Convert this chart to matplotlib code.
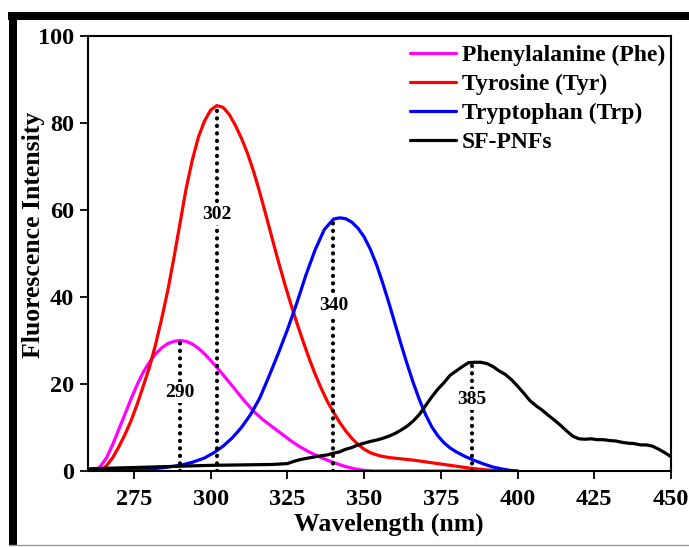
import matplotlib
matplotlib.use("Agg")
import matplotlib.pyplot as plt
from matplotlib.patches import Rectangle
from matplotlib.lines import Line2D

# ---- data ----
phe_x = [262, 264, 266, 268, 270, 272, 274, 276, 278, 280, 282, 284, 286, 288, 290, 292, 294, 296, 298, 300,
         302, 305, 308, 311, 314, 317, 320, 323, 326, 329, 332, 335, 338, 341, 344, 347, 350, 353, 400]
phe_y = [0, 1, 3, 6, 9.5, 13, 16.5, 19.8, 22.7, 25, 26.9, 28.3, 29.3, 29.8, 30, 29.8, 29.2, 28.2, 26.9, 25.4,
         23.8, 21.3, 18.7, 16.1, 13.7, 11.8, 10.2, 8.6, 7.0, 5.6, 4.4, 3.4, 2.5, 1.7, 1.0, 0.5, 0.15, 0, 0]

tyr_x = [264, 266, 268, 270, 272, 274, 276, 278, 280, 282, 284, 286, 288, 290, 292, 294, 296, 298, 300, 302,
         304, 306, 308, 310, 312, 314, 316, 318, 320, 322, 324, 326, 328, 330, 332, 334, 336, 338, 340, 342,
         344, 346, 348, 350, 352, 355, 358, 362, 366, 370, 375, 380, 385, 390, 395]
tyr_y = [0, 1.2, 3, 5.5, 8.3, 11.5, 15.3, 19.5, 23.8, 29, 35, 41.5, 49, 57, 65, 71.5, 76.8, 80.5, 83, 84,
         83.6, 82, 79.5, 76.5, 73, 68.8, 64, 58.8, 53.5, 48.3, 43.3, 38.6, 34.2, 30, 26, 22.3, 19, 16, 13.5, 11.2,
         9.2, 7.5, 6.1, 5.0, 4.2, 3.5, 3.1, 2.8, 2.5, 2.1, 1.6, 1.1, 0.6, 0.25, 0]

trp_x = [262, 270, 280, 285, 290, 294, 298, 301, 304, 307, 310, 313, 316, 319, 322, 325, 328, 331, 334, 337,
         340, 342, 344, 346, 348, 350, 352, 354, 356, 358, 360, 362, 364, 366, 368, 370, 372, 374, 376, 378,
         380, 383, 386, 389, 392, 395, 398, 400]
trp_y = [0, 0.1, 0.4, 0.8, 1.3, 2.0, 3.0, 4.2, 5.7, 7.6, 10, 13, 16.8, 21.8, 27, 32.5, 38.5, 45, 50.8, 55.5,
         57.9, 58.2, 58, 57.2, 55.8, 53.8, 51, 47.5, 43.3, 38.8, 34, 29.2, 24.6, 20.3, 16.4, 13, 10.2, 8.1, 6.5, 5.3,
         4.4, 3.3, 2.4, 1.6, 0.9, 0.45, 0.1, 0]

sf_x = [260, 270, 280, 290, 300, 310, 320, 325, 327, 329, 332, 335, 338, 340, 342, 344, 346, 348, 350, 352,
        354, 356, 358, 360, 362, 364, 366, 368, 370, 372, 374, 376, 378, 380, 382, 384, 386, 388, 390, 392,
        394, 396, 398, 400, 402, 404, 406, 408, 410, 412, 414, 416, 418, 420, 422, 424, 426, 428, 430, 432,
        434, 436, 438, 440, 442, 444, 446, 448, 450]
sf_y = [0.5, 0.7, 0.9, 1.1, 1.3, 1.4, 1.5, 1.7, 2.2, 2.6, 3.0, 3.4, 3.7, 4.1, 4.4, 5.0, 5.4, 6.0, 6.4, 6.8,
        7.1, 7.5, 8.0, 8.6, 9.4, 10.3, 11.5, 13.0, 15.0, 17.0, 18.8, 20.3, 22.0, 23.0, 24.0, 24.9, 25.0, 25.0, 24.7, 24.0,
        23.0, 22.2, 21.0, 19.5, 17.9, 16.2, 15.0, 14.0, 12.8, 11.7, 10.5, 9.2, 8.0, 7.4, 7.3, 7.4, 7.2, 7.2, 7.0, 6.9,
        6.6, 6.4, 6.3, 6.0, 6.0, 5.7, 5.0, 4.2, 3.3]

peak_nm = [290, 302, 340, 385]
peak_val = [30, 84, 58, 25]
peak_label_y = [18, 59, 38, 16.5]

series_labels = ["Phenylalanine (Phe)", "Tyrosine (Tyr)", "Tryptophan (Trp)", "SF-PNFs"]
series_colors = ["#ff00ff", "#ff0000", "#0000ff", "#000000"]

x_ticks = [275, 300, 325, 350, 375, 400, 425, 450]
y_ticks = [0, 20, 40, 60, 80, 100]

# ---- plot ----
plt.rcParams['font.family'] = ['Liberation Serif', 'DejaVu Serif']
plt.rcParams['font.weight'] = 'bold'

fig = plt.figure(figsize=(6.89, 5.47), dpi=100)
W, H = 689, 547
ax = fig.add_axes([88 / W, (H - 471) / H, (671 - 88) / W, (471 - 36) / H])

xs = [phe_x, tyr_x, trp_x, sf_x]
ys = [phe_y, tyr_y, trp_y, sf_y]
for x, y, lab, c in zip(xs, ys, series_labels, series_colors):
    ax.plot(x, y, color=c, lw=2.3, label=lab, solid_joinstyle='round', solid_capstyle='round')

for nm, v, ly in zip(peak_nm, peak_val, peak_label_y):
    ax.plot([nm, nm], [0, v], color='black', lw=3.0, linestyle=(0, (0.05, 1.75)),
            dash_capstyle='round', zorder=3)
    ax.text(nm, ly, str(nm), ha='center', va='center', fontsize=14, fontweight='bold',
            zorder=4, bbox=dict(facecolor='white', edgecolor='none', pad=1.5))

ax.set_xlim(260, 450)
ax.set_ylim(0, 100)
ax.set_xticks(x_ticks)
ax.set_yticks(y_ticks)
ax.tick_params(axis='both', direction='out', length=6, width=1.3, labelsize=17.5, pad=4)
ax.tick_params(axis='x', pad=7)
for lbl in ax.get_xticklabels() + ax.get_yticklabels():
    lbl.set_fontweight('bold')
for s in ax.spines.values():
    s.set_linewidth(1.5)

ax.set_xlabel("Wavelength (nm)", fontsize=18.5, fontweight='bold')
ax.set_ylabel("Fluorescence Intensity", fontsize=18.5, fontweight='bold')
ax.xaxis.set_label_coords((389 - 88) / 583, (471 - 513) / 435)
ax.yaxis.set_label_coords((22 - 88) / 583, (471 - 235) / 435)
ax.yaxis.label.set_va('top')

leg = ax.legend(loc='upper right', bbox_to_anchor=(1.0, 0.993), frameon=False,
                prop={'size': 17, 'weight': 'bold'}, handlelength=1.95,
                handletextpad=0.25, labelspacing=0.31, borderaxespad=0.15, borderpad=0.1)

# outer frame (thick black bars top & left, thin grey bottom)
fig.add_artist(Rectangle((8 / W, (H - 20) / H), (W - 8) / W, 8 / H,
                         transform=fig.transFigure, facecolor='black', edgecolor='none'))
fig.add_artist(Rectangle((9 / W, (H - 545) / H), 8 / W, (545 - 12) / H,
                         transform=fig.transFigure, facecolor='black', edgecolor='none'))
fig.add_artist(Line2D([9 / W, 1], [(H - 545) / H] * 2, transform=fig.transFigure,
                      color='#999999', lw=1))

fig.savefig("out.png", dpi=100)
